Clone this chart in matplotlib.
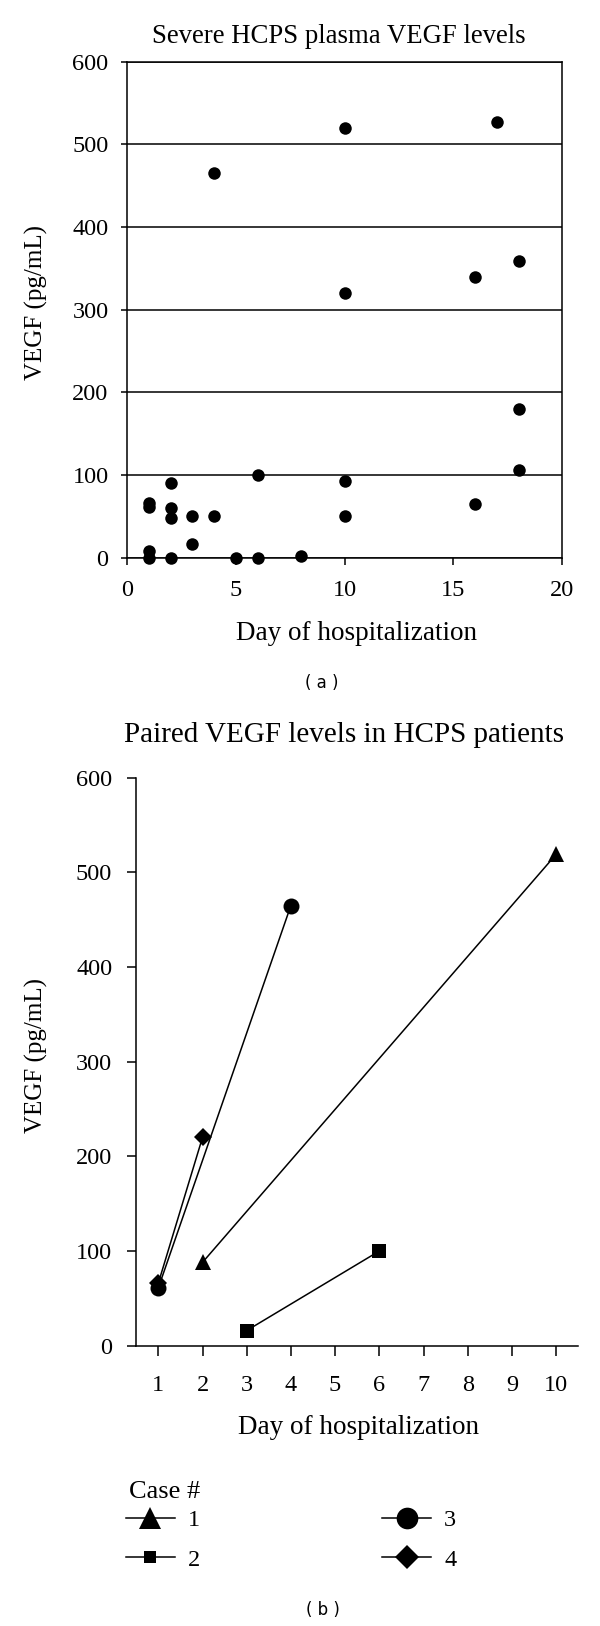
import matplotlib
matplotlib.use("Agg")
import matplotlib.pyplot as plt
from matplotlib.lines import Line2D

plt.rcParams['font.family'] = ['Liberation Serif', 'DejaVu Serif']

# ---- Panel (a) data: severe HCPS plasma VEGF levels ----
day_a = [1, 1, 1, 1, 2, 2, 2, 2, 3, 3, 4, 4, 5, 6, 6, 8,
         10, 10, 10, 10, 16, 16, 17, 18, 18, 18]
vegf_a = [66, 61, 8, 0, 90, 60, 48, 0, 50, 16, 465, 50, 0, 100, 0, 2,
          520, 320, 93, 50, 340, 65, 527, 359, 180, 106]

# ---- Panel (b) data: paired VEGF levels ----
case_labels = ['1', '2', '3', '4']
case1_days = [2, 10]
case1_vegf = [88, 519]
case2_days = [3, 6]
case2_vegf = [16, 100]
case3_days = [1, 4]
case3_vegf = [61, 465]
case4_days = [1, 2]
case4_vegf = [66, 220]

W, H = 600, 1626
fig = plt.figure(figsize=(W / 100, H / 100), dpi=100)

def fx(px):
    return px / W

def fy(py):
    return 1 - py / H

# ---------------- Panel (a) ----------------
ax1 = fig.add_axes([fx(127), fy(557.7), 435 / W, (557.7 - 61.7) / H])
ax1.scatter(day_a, vegf_a, s=81, c='black', linewidths=0, clip_on=False, zorder=3)
ax1.set_xlim(0, 20)
ax1.set_ylim(0, 600)
ax1.set_xticks(range(0, 21, 5))
ax1.set_yticks(range(0, 601, 100))
ax1.yaxis.grid(True, color='black', lw=1.1)
ax1.set_axisbelow(True)
for s in ax1.spines.values():
    s.set_linewidth(1.1)
ax1.tick_params(axis='y', direction='out', length=4.3, width=1.1, pad=9, labelsize=17.5)
ax1.tick_params(axis='x', direction='out', length=5, width=1.1, pad=11, labelsize=17.5)

fig.text(fx(339), fy(43.3), 'Severe HCPS plasma VEGF levels', ha='center', va='baseline', fontsize=19.3)
fig.text(fx(357), fy(640), 'Day of hospitalization', ha='center', va='baseline', fontsize=19.5)
fig.text(fx(36), fy(302.5), 'VEGF (pg/mL)', ha='center', va='center', rotation=90, fontsize=18)
fig.text(fx(322), fy(683), '( a )', ha='center', va='center', fontsize=12, family='DejaVu Sans')

# ---------------- Panel (b) ----------------
ax2 = fig.add_axes([fx(136.2), fy(1345.7), 442 / W, (1345.7 - 777.7) / H])
lw = 1.1
ax2.plot(case1_days, case1_vegf, color='black', lw=lw, marker='^', ms=12, mew=0, clip_on=False, zorder=3)
ax2.plot(case2_days, case2_vegf, color='black', lw=lw, marker='s', ms=10, mew=0, clip_on=False, zorder=3)
ax2.plot(case3_days, case3_vegf, color='black', lw=lw, marker='o', ms=11.5, mew=0, clip_on=False, zorder=3)
ax2.plot(case4_days, case4_vegf, color='black', lw=lw, marker='D', ms=9, mew=0, clip_on=False, zorder=3)
ax2.set_xlim(0.5, 10.5)
ax2.set_ylim(0, 600)
ax2.set_xticks(range(1, 11))
ax2.set_yticks(range(0, 601, 100))
ax2.spines['top'].set_visible(False)
ax2.spines['right'].set_visible(False)
for s in ['left', 'bottom']:
    ax2.spines[s].set_linewidth(1.1)
ax2.tick_params(axis='y', direction='out', length=6.8, width=1.1, pad=10.5, labelsize=17.5)
ax2.tick_params(axis='x', direction='out', length=7, width=1.1, pad=14, labelsize=17.5)

fig.text(fx(343.5), fy(742), 'Paired VEGF levels in HCPS patients', ha='center', va='baseline', fontsize=21)
fig.text(fx(358), fy(1434), 'Day of hospitalization', ha='center', va='baseline', fontsize=19.5)
fig.text(fx(36), fy(1055.8), 'VEGF (pg/mL)', ha='center', va='center', rotation=90, fontsize=18)
fig.text(fx(323), fy(1610), '( b )', ha='center', va='center', fontsize=12, family='DejaVu Sans')

# Legend
fig.text(fx(129), fy(1498), 'Case #', ha='left', va='baseline', fontsize=19)
handles = [
    Line2D([], [], color='black', lw=lw, marker='^', ms=15.5, mew=0),
    Line2D([], [], color='black', lw=lw, marker='s', ms=8.6, mew=0),
    Line2D([], [], color='black', lw=lw, marker='o', ms=15.6, mew=0),
    Line2D([], [], color='black', lw=lw, marker='D', ms=12, mew=0),
]
fig.legend(handles, case_labels, ncol=2, loc='upper left',
           bbox_to_anchor=(fx(126), fy(1509)), frameon=False, fontsize=17.5,
           handlelength=2.0, handletextpad=0.54, columnspacing=7.5,
           labelspacing=0.72, borderpad=0, borderaxespad=0)

fig.savefig('out.png', dpi=100)
